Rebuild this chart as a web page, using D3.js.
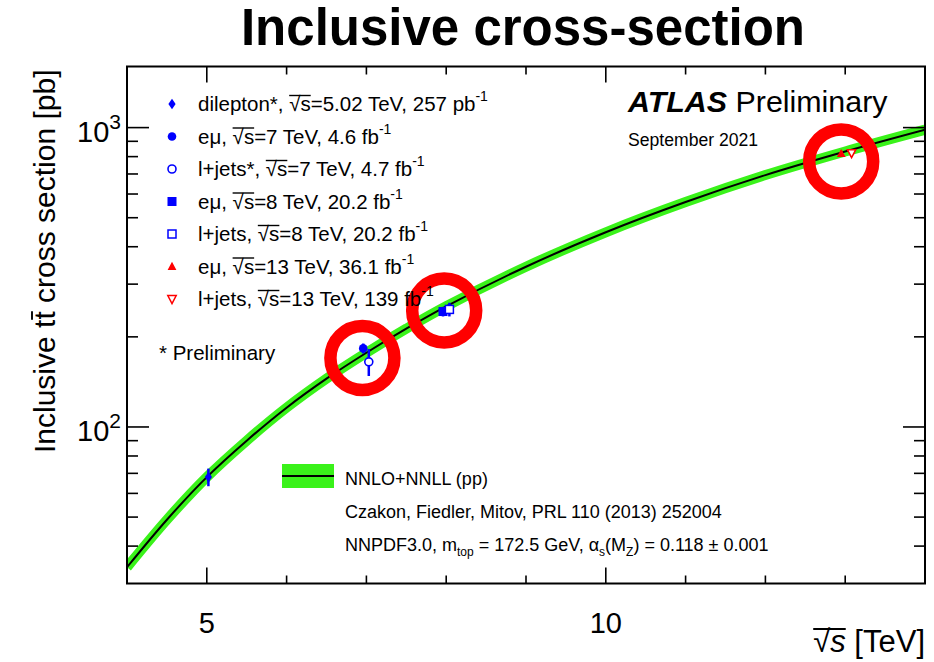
<!DOCTYPE html>
<html>
<head>
<meta charset="utf-8">
<script src="https://cdn.jsdelivr.net/npm/d3@7"></script>
<style>
  html, body { margin: 0; padding: 0; background: #fff; }
  svg { display: block; }
  text { font-family: "Liberation Sans", Arial, Helvetica, sans-serif; fill: #000; }
</style>
</head>
<body>
<svg id="chart" width="934" height="662"></svg>
<script>
// ---- measurements ----
const labels = [
  "dilepton*", "eμ", "l+jets*", "eμ", "l+jets", "eμ", "l+jets"
];
const energyText = ["5.02", "7", "7", "8", "8", "13", "13"];
const lumiText = ["257 pb", "4.6 fb", "4.7 fb", "20.2 fb", "20.2 fb", "36.1 fb", "139 fb"];
// plotted √s (points at the same energy are shifted slightly apart)
const sqrtS = [5.02, 6.96, 7.03, 7.96, 8.04, 12.95, 13.08];
const sigma = [68, 183, 165, 243, 247, 818, 822];
const errUp = [4.6, 7, 17, 9, 13, 20, 25];
const errDown = [4.6, 7, 17, 9, 13, 20, 25];
const markers = ["diamond", "circle", "circleOpen", "square", "squareOpen", "triangle", "triangleDownOpen"];
const colors = ["#0000ff", "#0000ff", "#0000ff", "#0000ff", "#0000ff", "#ff0000", "#ff0000"];

// ---- NNLO+NNLL prediction ----
const theoryS = [4, 4.5, 5, 5.5, 6, 6.5, 7, 7.5, 8, 9, 10, 11, 12, 13, 14];
const theorySigma = [34, 49, 68, 90, 116, 145, 177, 213, 253, 343, 447, 564, 694, 832, 984];

// ---- highlighted regions (√s, σ) ----
const ringS = [6.95, 7.975, 12.95];
const ringSigma = [170, 245, 771];

// ---- axis ticks ----
const xMajor = [5, 10];
const xMinor = [6, 7, 8, 9, 11, 12, 13];
const yMajor = [100, 1000];
const yMinor = [40, 50, 60, 70, 80, 90, 200, 300, 400, 500, 600, 700, 800, 900];

const svg = d3.select("#chart");
const L = 127, R = 925, T = 66.5, B = 583.5;

const x = d3.scaleLinear().domain([4, 14]).range([L, R]);
const y = d3.scaleLog().domain([30, 1600]).range([B, T]);

// Title
svg.append("text")
  .attr("x", 523).attr("y", 45)
  .attr("text-anchor", "middle")
  .style("font-size", "51px").style("font-weight", "bold")
  .text("Inclusive cross-section");

// clip for plot contents
svg.append("clipPath").attr("id", "plotclip")
  .append("rect").attr("x", L).attr("y", T).attr("width", R - L).attr("height", B - T);

const plot = svg.append("g").attr("clip-path", "url(#plotclip)");

// theory band + central line
const line = d3.line()
  .x((d, i) => x(theoryS[i]))
  .y(d => y(d))
  .curve(d3.curveCatmullRom.alpha(0.5));

plot.append("path")
  .attr("d", line(theorySigma))
  .attr("fill", "none")
  .attr("stroke", "#3af21a")
  .attr("stroke-width", 10);
plot.append("path")
  .attr("d", line(theorySigma))
  .attr("fill", "none")
  .attr("stroke", "#000")
  .attr("stroke-width", 2);

// marker symbols
function drawMarker(g, type, cx, cy, color, scale = 1) {
  const s = scale;
  if (type === "diamond") {
    g.append("path")
      .attr("d", `M${cx},${cy - 5.3 * s} L${cx + 3.6 * s},${cy} L${cx},${cy + 5.3 * s} L${cx - 3.6 * s},${cy} Z`)
      .attr("fill", color);
  } else if (type === "circle") {
    g.append("circle").attr("cx", cx).attr("cy", cy).attr("r", 4.3 * s).attr("fill", color);
  } else if (type === "circleOpen") {
    g.append("circle").attr("cx", cx).attr("cy", cy).attr("r", 4 * s)
      .attr("fill", "#fff").attr("stroke", color).attr("stroke-width", 1.6);
  } else if (type === "square") {
    g.append("rect").attr("x", cx - 4.5 * s).attr("y", cy - 4.5 * s)
      .attr("width", 9 * s).attr("height", 9 * s).attr("fill", color);
  } else if (type === "squareOpen") {
    g.append("rect").attr("x", cx - 4 * s).attr("y", cy - 4 * s)
      .attr("width", 8 * s).attr("height", 8 * s)
      .attr("fill", "#fff").attr("stroke", color).attr("stroke-width", 1.5);
  } else if (type === "triangle") {
    g.append("path")
      .attr("d", `M${cx},${cy - 4.8 * s} L${cx + 4.4 * s},${cy + 3.4 * s} L${cx - 4.4 * s},${cy + 3.4 * s} Z`)
      .attr("fill", color);
  } else if (type === "triangleDownOpen") {
    g.append("path")
      .attr("d", `M${cx},${cy + 4.6 * s} L${cx + 4.2 * s},${cy - 3.4 * s} L${cx - 4.2 * s},${cy - 3.4 * s} Z`)
      .attr("fill", "#fff").attr("stroke", color).attr("stroke-width", 1.5);
  }
}

// error bars then markers
const pts = plot.append("g");
sqrtS.forEach((s, i) => {
  pts.append("line")
    .attr("x1", x(s)).attr("x2", x(s))
    .attr("y1", y(sigma[i] + errUp[i])).attr("y2", y(sigma[i] - errDown[i]))
    .attr("stroke", colors[i]).attr("stroke-width", 2.5);
});
sqrtS.forEach((s, i) => drawMarker(pts, markers[i], x(s), y(sigma[i]), colors[i]));

// red highlight rings
plot.append("g").selectAll("circle")
  .data(ringS)
  .join("circle")
  .attr("cx", d => x(d))
  .attr("cy", (d, i) => y(ringSigma[i]))
  .attr("r", 32)
  .attr("fill", "none")
  .attr("stroke", "#ff0000")
  .attr("stroke-width", 12.5);

// tick marks on all four sides, pointing into the frame
const ticks = svg.append("g").attr("stroke", "#000").attr("stroke-width", 1.6);
function xTicks(values, len) {
  ticks.selectAll(null).data(values).join("line")
    .attr("x1", d => x(d)).attr("x2", d => x(d))
    .attr("y1", B).attr("y2", B - len);
  ticks.selectAll(null).data(values).join("line")
    .attr("x1", d => x(d)).attr("x2", d => x(d))
    .attr("y1", T).attr("y2", T + len);
}
function yTicks(values, len) {
  ticks.selectAll(null).data(values).join("line")
    .attr("y1", d => y(d)).attr("y2", d => y(d))
    .attr("x1", L).attr("x2", L + len);
  ticks.selectAll(null).data(values).join("line")
    .attr("y1", d => y(d)).attr("y2", d => y(d))
    .attr("x1", R).attr("x2", R - len);
}
xTicks(xMajor, 16);
xTicks(xMinor, 8);
yTicks(yMajor, 22);
yTicks(yMinor, 11);

// frame
svg.append("rect")
  .attr("x", L).attr("y", T).attr("width", R - L).attr("height", B - T)
  .attr("fill", "none").attr("stroke", "#000").attr("stroke-width", 2);

// x tick labels
svg.selectAll(null).data(xMajor).join("text")
  .attr("x", d => x(d)).attr("y", 633)
  .attr("text-anchor", "middle").style("font-size", "29px").text(d => d);
// y tick labels 10^n
yMajor.forEach(v => {
  const t = svg.append("text").attr("x", 121).attr("y", y(v) + 14)
    .attr("text-anchor", "end").style("font-size", "29px");
  t.append("tspan").text("10");
  t.append("tspan").attr("dy", -13).style("font-size", "21px").text(Math.round(Math.log10(v)));
});

// overline helper: draws a bar over characters [i0, i1] of a text node
function overline(parent, textSel, i0, i1, yOff, w, color = "#000") {
  const node = textSel.node();
  const a = node.getStartPositionOfChar(i0);
  const b = node.getEndPositionOfChar(i1);
  parent.append("line")
    .attr("x1", a.x).attr("x2", b.x)
    .attr("y1", a.y + yOff).attr("y2", a.y + yOff)
    .attr("stroke", color).attr("stroke-width", w);
}

// x axis title: √s [TeV]
{
  const g = svg.append("g");
  const t = g.append("text").attr("x", 925).attr("y", 652)
    .attr("text-anchor", "end").style("font-size", "31px");
  t.append("tspan").text("√");
  t.append("tspan").style("font-style", "italic").text("s");
  t.append("tspan").text(" [TeV]");
  overline(g, t, 0, 1, -23, 1.9);
}

// y axis title
{
  const g = svg.append("g").attr("transform", `translate(55,${T + 3}) rotate(-90)`);
  const str = "Inclusive tt cross section [pb]";
  const t = g.append("text").attr("x", 0).attr("y", 0)
    .attr("text-anchor", "end").style("font-size", "30px").text(str);
  overline(g, t, 11, 11, -23, 1.9);
}

// legend
const legend = svg.append("g");
labels.forEach((lab, i) => {
  const ly = 104 + i * 32.5;
  drawMarker(legend, markers[i], 172, ly, colors[i]);
  const t = legend.append("text").attr("x", 198).attr("y", ly + 7)
    .style("font-size", "20.5px");
  t.append("tspan").text(`${lab}, `);
  t.append("tspan").text("√");
  t.append("tspan").text("s");
  t.append("tspan").text(`=${energyText[i]} TeV, ${lumiText[i]}`);
  t.append("tspan").attr("dy", -10).style("font-size", "14px").text("-1");
  const idx = lab.length + 2;
  overline(legend, t, idx, idx + 1, -15.5, 1.4);
});

svg.append("text").attr("x", 159).attr("y", 360)
  .style("font-size", "20.5px").text("* Preliminary");

// ATLAS label
{
  const t = svg.append("text").attr("x", 628).attr("y", 112).style("font-size", "30.4px");
  t.append("tspan").style("font-weight", "bold").style("font-style", "italic").text("ATLAS");
  t.append("tspan").text(" Preliminary");
  svg.append("text").attr("x", 628).attr("y", 146).style("font-size", "17.6px").text("September 2021");
}

// theory legend
svg.append("rect").attr("x", 282).attr("y", 464).attr("width", 52).attr("height", 24).attr("fill", "#3af21a");
svg.append("line").attr("x1", 282).attr("x2", 334).attr("y1", 476).attr("y2", 476)
  .attr("stroke", "#000").attr("stroke-width", 2);
svg.append("text").attr("x", 345).attr("y", 485).style("font-size", "18px").text("NNLO+NNLL (pp)");
svg.append("text").attr("x", 345).attr("y", 518).style("font-size", "18px")
  .text("Czakon, Fiedler, Mitov, PRL 110 (2013) 252004");
{
  const t = svg.append("text").attr("x", 345).attr("y", 551).style("font-size", "18px");
  t.append("tspan").text("NNPDF3.0, m");
  t.append("tspan").attr("dy", 5).style("font-size", "12px").text("top");
  t.append("tspan").attr("dy", -5).text(" = 172.5 GeV, α");
  t.append("tspan").attr("dy", 5).style("font-size", "12px").text("s");
  t.append("tspan").attr("dy", -5).text("(M");
  t.append("tspan").attr("dy", 5).style("font-size", "12px").text("Z");
  t.append("tspan").attr("dy", -5).text(") = 0.118 ± 0.001");
}
</script>
</body>
</html>
